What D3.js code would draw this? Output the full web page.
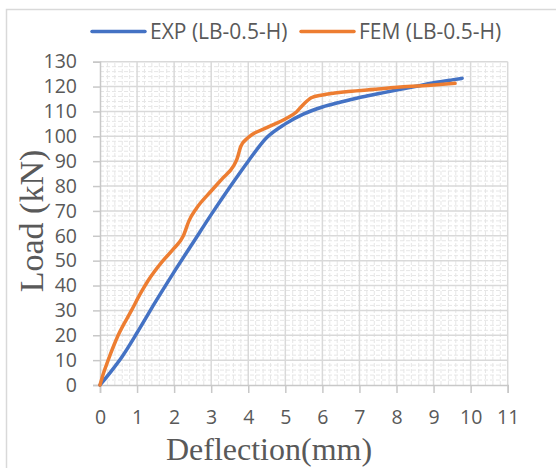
<!DOCTYPE html>
<html><head><meta charset="utf-8">
<script src="https://cdn.jsdelivr.net/npm/d3@7"></script>
<style>body{margin:0;background:#fff}</style>
</head><body>
<svg id="c" width="556" height="468"></svg>
<script>
// Data
const seriesNames = ["EXP (LB-0.5-H)", "FEM (LB-0.5-H)"];
const expDeflection = [0, 0.3, 0.6, 1.0, 1.5, 2.0, 2.5, 3.0, 3.5, 4.0, 4.5, 5.0, 5.5, 6.0, 6.5, 7.0, 7.5, 8.0, 8.5, 9.0, 9.5, 9.77];
const expLoad       = [0, 5.5, 11.5, 21, 33.5, 45.5, 57, 68.5, 79.5, 90, 99.5, 105, 109, 111.8, 113.8, 115.6, 117.1, 118.6, 120, 121.5, 122.7, 123.3];
const femDeflection = [0, 0.1, 0.22, 0.49, 0.85, 1.1, 1.3, 1.7, 2.0, 2.25, 2.4, 2.6, 3.0, 3.3, 3.6, 3.7, 3.8, 4.0, 4.5, 5.0, 5.3, 5.5, 5.7, 6.0, 6.7, 7.5, 8.1, 9.0, 9.58];
const femLoad       = [0, 5, 10, 20, 30, 37, 42, 50, 55, 60, 66, 71, 78, 83, 88, 91, 96, 99.5, 103.5, 107, 109.8, 113, 115.5, 116.6, 118, 119, 119.8, 120.6, 121.3];
const xTickValues = d3.range(0, 12, 1);
const yTickValues = d3.range(0, 131, 10);
const xTitle = "Deflection(mm)";
const yTitle = "Load (kN)";
const colors = ["#4472C4", "#ED7D31"];

const svg = d3.select("#c");
const x = d3.scaleLinear().domain([0, 11]).range([100, 507.7]);
const y = d3.scaleLinear().domain([0, 130]).range([385, 61.7]);

const labelFont = "'Open Sans', sans-serif";
const textCol = "#595959";

// minor grid
const xMinor = d3.range(0, 11.0001, 0.2).filter(v => Math.abs(v - Math.round(v)) > 1e-6);
const yMinor = d3.range(0, 130.0001, 2).filter(v => Math.abs(v / 10 - Math.round(v / 10)) > 1e-6);
const g = svg.append("g");
g.selectAll(".xm").data(xMinor).enter().append("line")
  .attr("x1", d => x(d)).attr("x2", d => x(d)).attr("y1", y(0)).attr("y2", y(130))
  .attr("stroke", "#e6e6e6").attr("stroke-width", 1).attr("stroke-dasharray", "4,2");
g.selectAll(".ym").data(yMinor).enter().append("line")
  .attr("x1", x(0)).attr("x2", x(11)).attr("y1", d => y(d)).attr("y2", d => y(d))
  .attr("stroke", "#e6e6e6").attr("stroke-width", 1).attr("stroke-dasharray", "4,2");

// major grid
g.selectAll(".xg").data(xTickValues.slice(1)).enter().append("line")
  .attr("x1", d => x(d)).attr("x2", d => x(d)).attr("y1", y(0)).attr("y2", y(130))
  .attr("stroke", "#d9d9d9").attr("stroke-width", 1.5);
g.selectAll(".yg").data(yTickValues.slice(1)).enter().append("line")
  .attr("x1", x(0)).attr("x2", x(11)).attr("y1", d => y(d)).attr("y2", d => y(d))
  .attr("stroke", "#d9d9d9").attr("stroke-width", 1.5);

// axes
const xAxis = d3.axisBottom(x).tickValues(xTickValues).tickSize(8).tickFormat(d3.format("d"));
const yAxis = d3.axisLeft(y).tickValues(yTickValues).tickSize(7).tickFormat(d3.format("d"));
const gx = svg.append("g").attr("transform", `translate(0,${y(0)})`).call(xAxis);
const gy = svg.append("g").attr("transform", `translate(${x(0)},0)`).call(yAxis);
[gx, gy].forEach(a => {
  a.select(".domain").attr("stroke", "#c8c8c8").attr("stroke-width", 1.5);
  a.selectAll(".tick line").attr("stroke", "#c8c8c8").attr("stroke-width", 1.5);
  a.selectAll("text").attr("fill", textCol).style("font-family", labelFont).style("font-size", "19.5px");
});
gy.selectAll(".tick text").attr("x", -23);
gx.selectAll(".tick text").attr("dy", null).attr("y", 423.5 - y(0));

// series lines
const line = d3.line().x(d => x(d[0])).y(d => y(d[1])).curve(d3.curveMonotoneX);
const expPts = expDeflection.map((d, i) => [d, expLoad[i]]);
const femPts = femDeflection.map((d, i) => [d, femLoad[i]]);
svg.append("path").datum(expPts).attr("d", line).attr("fill", "none")
  .attr("stroke", colors[0]).attr("stroke-width", 3.5).attr("stroke-linecap", "round").attr("stroke-linejoin", "round");
svg.append("path").datum(femPts).attr("d", line).attr("fill", "none")
  .attr("stroke", colors[1]).attr("stroke-width", 3.5).attr("stroke-linecap", "round").attr("stroke-linejoin", "round");

// titles
svg.append("text").attr("x", 269).attr("y", 459.5).attr("text-anchor", "middle")
  .style("font-family", "'Liberation Serif', 'Times New Roman', serif").style("font-size", "32px")
  .attr("fill", textCol).text(xTitle);
svg.append("text").attr("transform", "translate(43,221) rotate(-90)").attr("text-anchor", "middle")
  .style("font-family", "'Liberation Serif', 'Times New Roman', serif").style("font-size", "34px")
  .attr("fill", textCol).text(yTitle);

// legend
const legendX = [92, 301];
seriesNames.forEach((name, i) => {
  svg.append("line").attr("x1", legendX[i]).attr("x2", legendX[i] + 53).attr("y1", 31.6).attr("y2", 31.6)
    .attr("stroke", colors[i]).attr("stroke-width", 3.5).attr("stroke-linecap", "round");
  svg.append("text").attr("x", legendX[i] + 58).attr("y", 39).attr("fill", textCol)
    .style("font-family", labelFont).style("font-size", "21px").text(name);
});

// outer border
svg.append("rect").attr("x", 6.5).attr("y", 9.5).attr("width", 600).attr("height", 500)
  .attr("fill", "none").attr("stroke", "#d9d9d9").attr("stroke-width", 1.5);
</script>
</body></html>
